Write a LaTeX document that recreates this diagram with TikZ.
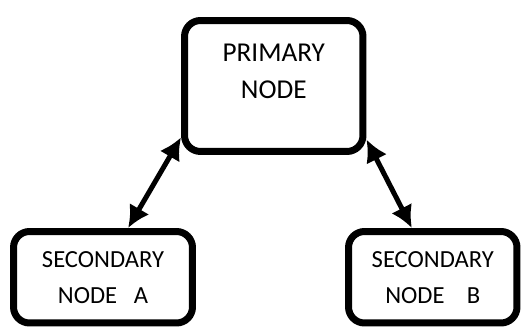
\documentclass[tikz,border=0pt]{standalone}
\usepackage{fontspec}
\setmainfont{Carlito}
\usepackage{tikz}
\usetikzlibrary{arrows.meta,shapes}
\usetikzlibrary{positioning}
\tikzstyle{net}=[every node/.style={rectangle,rounded corners=0.32cm,draw=black,
                line width=0.14cm,align=center,text=black,
                font=\fontsize{14}{20.5}\selectfont}, x=0.02cm, y=-0.02cm]
\tikzstyle{link}=[line width=0.1cm,
                {Latex[length=0.44cm,width=0.46cm]}-{Latex[length=0.44cm,width=0.46cm]}]
\tikzstyle{txt}=[draw=none,rounded corners=0pt,line width=0.4pt,
                font=\fontsize{15.5}{21}\selectfont]

\begin{document}
\begin{tikzpicture}[net]
\path[use as bounding box] (0,0) rectangle (523,327);
\node[minimum width=3.57cm, minimum height=2.62cm,
      label={[txt, anchor=north, yshift=-0.42cm]north:PRIMARY\\NODE}]
      (prim) at (273.75,86) {};
\node[minimum width=3.58cm, minimum height=1.83cm] (seca) at (103,277.25)
      {SECONDARY\\NODE~~~A};
\node[minimum width=3.37cm, minimum height=1.83cm] (secb) at (432.75,277.25)
      {SECONDARY\\NODE~~~~B};
\path[link]
  (prim.209) edge (seca.63)
  (prim.330) edge (secb.113);
\end{tikzpicture}
\end{document}
